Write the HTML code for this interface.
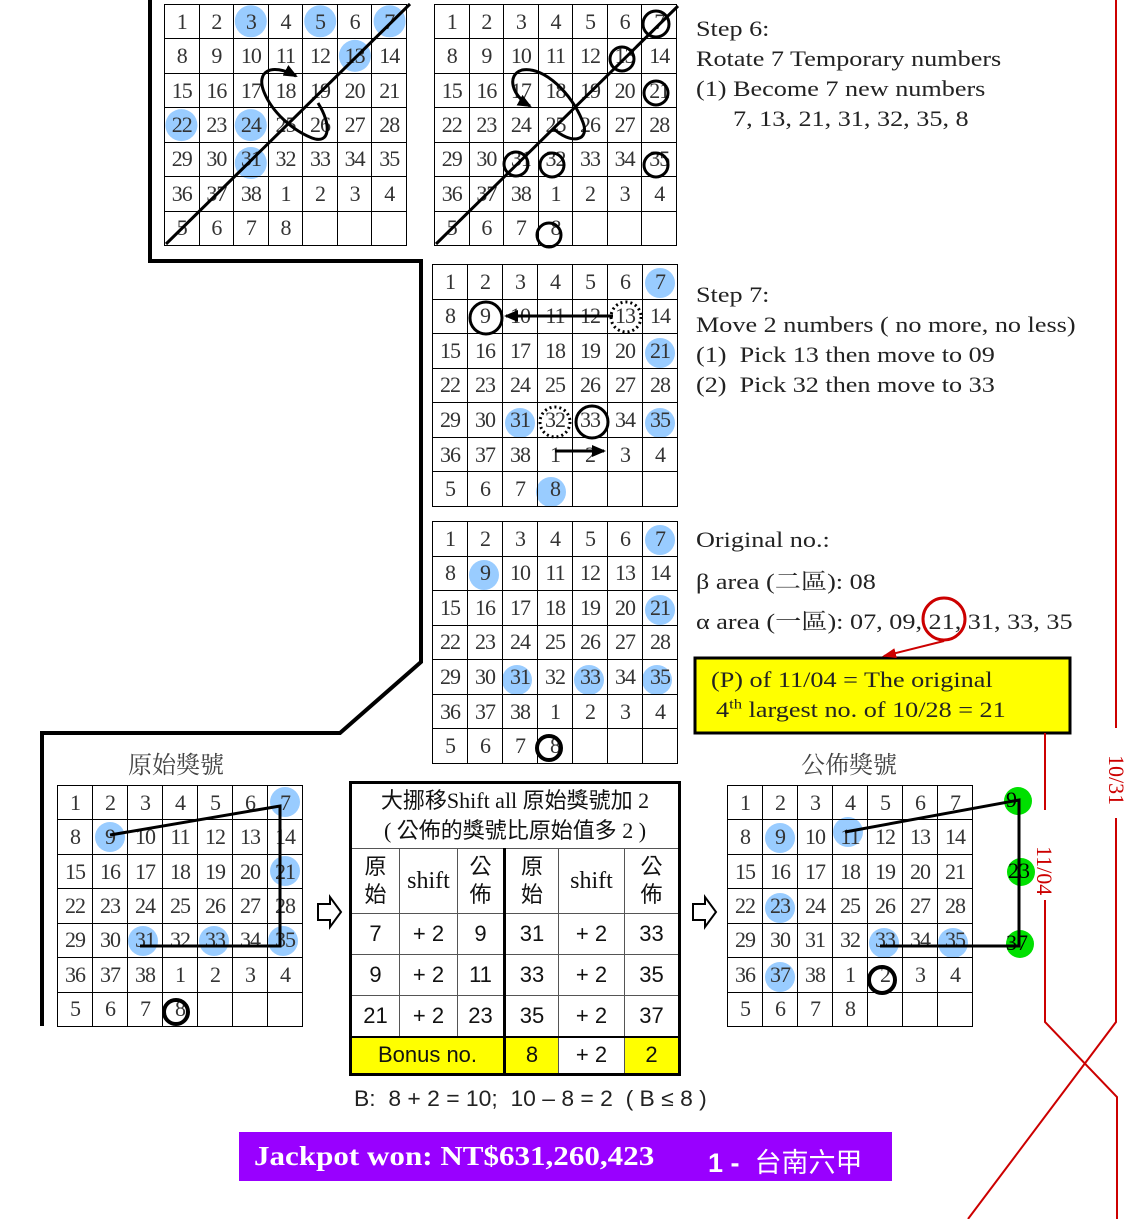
<!DOCTYPE html>
<html><head><meta charset="utf-8"><style>
body{margin:0;width:1148px;height:1219px;position:relative;background:#fff;overflow:hidden;font-family:"Liberation Serif","Noto Serif CJK SC",serif}
svg{position:absolute;left:0;top:0}
.g{position:absolute;border-collapse:collapse;table-layout:fixed;z-index:2}
.g td{border:1.5px solid #000;padding:0;text-align:center;font:22px "Liberation Serif",serif;color:#333;line-height:1;letter-spacing:-1px}
.t{position:absolute;font:22px "Liberation Serif","Noto Serif CJK SC",serif;color:#222;white-space:nowrap;z-index:3;transform-origin:0 0;transform:scaleX(1.19)}
#tb{position:absolute;left:349px;top:781px;border-collapse:collapse;table-layout:fixed;z-index:2;border:3px solid #000}
#tb td{border:1.5px solid #555;padding:0;text-align:center;font:22px "Liberation Sans","Noto Sans CJK TC",sans-serif;color:#111}
</style></head><body>
<svg width="1148" height="1219" style="z-index:1">
<g fill="#99ccff">
<circle cx="250.8" cy="21.3" r="16"/><circle cx="320.2" cy="21.3" r="16"/><circle cx="389.6" cy="21.3" r="16"/><circle cx="354.9" cy="55.9" r="16"/><circle cx="181.4" cy="125.1" r="16"/><circle cx="250.8" cy="125.1" r="16"/><circle cx="250.8" cy="163" r="16"/>
<circle cx="660" cy="283" r="15"/><circle cx="660" cy="353" r="15"/><circle cx="520" cy="423" r="15"/><circle cx="660" cy="423" r="15"/><circle cx="551" cy="492" r="15"/>
<circle cx="660" cy="540" r="15"/><circle cx="484" cy="575" r="15"/><circle cx="660" cy="610" r="15"/><circle cx="517" cy="680" r="15"/><circle cx="589" cy="680" r="15"/><circle cx="657" cy="680" r="15"/>
<circle cx="285" cy="802" r="15"/><circle cx="110" cy="837" r="15"/><circle cx="285" cy="871" r="15"/><circle cx="143" cy="941" r="15"/><circle cx="214" cy="941" r="15"/><circle cx="283" cy="941" r="15"/>
<circle cx="780" cy="838" r="15"/><circle cx="848" cy="832" r="15"/><circle cx="780" cy="908" r="15"/><circle cx="884" cy="943" r="15"/><circle cx="953" cy="943" r="15"/><circle cx="780" cy="977" r="15"/>
</g>
<g fill="#00e000"><circle cx="1018" cy="801" r="14"/><circle cx="1021" cy="872" r="14"/><circle cx="1020" cy="944" r="14"/></g>
<rect x="695" y="658" width="375" height="75" fill="#ffff00" stroke="#000" stroke-width="3"/>
<rect x="239" y="1132" width="653" height="49" fill="#9900ff"/>
</svg>

<table class="g" style="left:164px;top:4px;width:243px;height:242px"><tr><td>1<td>2<td>3<td>4<td>5<td>6<td>7<tr><td>8<td>9<td>10<td>11<td>12<td>13<td>14<tr><td>15<td>16<td>17<td>18<td>19<td>20<td>21<tr><td>22<td>23<td>24<td>25<td>26<td>27<td>28<tr><td>29<td>30<td>31<td>32<td>33<td>34<td>35<tr><td>36<td>37<td>38<td>1<td>2<td>3<td>4<tr><td>5<td>6<td>7<td>8<td><td><td></table>
<table class="g" style="left:434px;top:4px;width:243px;height:242px"><tr><td>1<td>2<td>3<td>4<td>5<td>6<td>7<tr><td>8<td>9<td>10<td>11<td>12<td>13<td>14<tr><td>15<td>16<td>17<td>18<td>19<td>20<td>21<tr><td>22<td>23<td>24<td>25<td>26<td>27<td>28<tr><td>29<td>30<td>31<td>32<td>33<td>34<td>35<tr><td>36<td>37<td>38<td>1<td>2<td>3<td>4<tr><td>5<td>6<td>7<td>8<td><td><td></table>
<table class="g" style="left:432px;top:264px;width:246px;height:243px"><tr><td>1<td>2<td>3<td>4<td>5<td>6<td>7<tr><td>8<td>9<td>10<td>11<td>12<td>13<td>14<tr><td>15<td>16<td>17<td>18<td>19<td>20<td>21<tr><td>22<td>23<td>24<td>25<td>26<td>27<td>28<tr><td>29<td>30<td>31<td>32<td>33<td>34<td>35<tr><td>36<td>37<td>38<td>1<td>2<td>3<td>4<tr><td>5<td>6<td>7<td>8<td><td><td></table>
<table class="g" style="left:432px;top:521px;width:246px;height:243px"><tr><td>1<td>2<td>3<td>4<td>5<td>6<td>7<tr><td>8<td>9<td>10<td>11<td>12<td>13<td>14<tr><td>15<td>16<td>17<td>18<td>19<td>20<td>21<tr><td>22<td>23<td>24<td>25<td>26<td>27<td>28<tr><td>29<td>30<td>31<td>32<td>33<td>34<td>35<tr><td>36<td>37<td>38<td>1<td>2<td>3<td>4<tr><td>5<td>6<td>7<td>8<td><td><td></table>
<table class="g" style="left:57px;top:785px;width:246px;height:242px"><tr><td>1<td>2<td>3<td>4<td>5<td>6<td>7<tr><td>8<td>9<td>10<td>11<td>12<td>13<td>14<tr><td>15<td>16<td>17<td>18<td>19<td>20<td>21<tr><td>22<td>23<td>24<td>25<td>26<td>27<td>28<tr><td>29<td>30<td>31<td>32<td>33<td>34<td>35<tr><td>36<td>37<td>38<td>1<td>2<td>3<td>4<tr><td>5<td>6<td>7<td>8<td><td><td></table>
<table class="g" style="left:727px;top:785px;width:246px;height:242px"><tr><td>1<td>2<td>3<td>4<td>5<td>6<td>7<tr><td>8<td>9<td>10<td>11<td>12<td>13<td>14<tr><td>15<td>16<td>17<td>18<td>19<td>20<td>21<tr><td>22<td>23<td>24<td>25<td>26<td>27<td>28<tr><td>29<td>30<td>31<td>32<td>33<td>34<td>35<tr><td>36<td>37<td>38<td>1<td>2<td>3<td>4<tr><td>5<td>6<td>7<td>8<td><td><td></table>

<table id="tb" style="width:329px;height:292px">
<colgroup><col style="width:49px"><col style="width:58px"><col style="width:47px"><col style="width:54px"><col style="width:66px"><col style="width:55px"></colgroup>
<tr style="height:66px"><td colspan="6" style="font-family:'Liberation Serif','Noto Sans CJK TC',sans-serif;line-height:30px">大挪移Shift all 原始獎號加 2<br>( 公佈的獎號比原始值多 2 )</td></tr>
<tr style="height:65px"><td style="line-height:28px">原<br>始</td><td style="font-family:'Liberation Serif',serif;font-size:24px">shift</td><td style="line-height:28px;border-right:3px solid #000">公<br>佈</td><td style="line-height:28px">原<br>始</td><td style="font-family:'Liberation Serif',serif;font-size:24px">shift</td><td style="line-height:28px">公<br>佈</td></tr>
<tr style="height:41px"><td>7</td><td>+ 2</td><td style="border-right:3px solid #000">9</td><td>31</td><td>+ 2</td><td>33</td></tr>
<tr style="height:41px"><td>9</td><td>+ 2</td><td style="border-right:3px solid #000">11</td><td>33</td><td>+ 2</td><td>35</td></tr>
<tr style="height:41px"><td>21</td><td>+ 2</td><td style="border-right:3px solid #000">23</td><td>35</td><td>+ 2</td><td>37</td></tr>
<tr style="height:38px"><td colspan="3" style="background:#ff0;border-right:3px solid #000;border-top:2px solid #000">Bonus no.</td><td style="background:#ff0;border-top:2px solid #000">8</td><td style="border-top:2px solid #000">+ 2</td><td style="background:#ff0;border-top:2px solid #000">2</td></tr>
</table>

<div class="t" style="left:696px;top:16px">Step 6:</div>
<div class="t" style="left:696px;top:46px">Rotate 7 Temporary numbers</div>
<div class="t" style="left:696px;top:76px">(1) Become 7 new numbers</div>
<div class="t" style="left:733px;top:106px">7, 13, 21, 31, 32, 35, 8</div>
<div class="t" style="left:696px;top:282px">Step 7:</div>
<div class="t" style="left:696px;top:312px">Move 2 numbers ( no more, no less)</div>
<div class="t" style="left:696px;top:342px">(1)&nbsp; Pick 13 then move to 09</div>
<div class="t" style="left:696px;top:372px">(2)&nbsp; Pick 32 then move to 33</div>
<div class="t" style="left:696px;top:527px">Original no.:</div>
<div class="t" style="left:696px;top:565px">β area (二區): 08</div>
<div class="t" style="left:696px;top:605px">α area (一區): 07, 09, 21, 31, 33, 35</div>
<div class="t" style="left:711px;top:667px">(P) of 11/04 = The original</div>
<div class="t" style="left:716px;top:697px">4<sup style="font-size:14px">th</sup> largest no. of 10/28 = 21</div>
<div class="t" style="left:128px;top:745px;font-size:24px;color:#444;transform:none">原始獎號</div>
<div class="t" style="left:801px;top:745px;font-size:24px;color:#444;transform:none">公佈獎號</div>
<div class="t" style="left:354px;top:1086px;font-family:'Liberation Sans',sans-serif;transform:scaleX(1.04)">B:&nbsp; 8 + 2 = 10;&nbsp; 10 – 8 = 2&nbsp; ( B ≤ 8 )</div>
<div class="t" style="left:254px;top:1141px;font-size:27px;font-weight:bold;color:#fff;transform:scaleX(1.15)">Jackpot won: NT$631,260,423</div>
<div class="t" style="left:708px;top:1141px;font-size:27px;color:#fff;font-family:'Liberation Sans','Noto Sans CJK TC',sans-serif;transform:none"><b>1 -</b>&nbsp; 台南六甲</div>
<div class="t" style="left:1006px;top:787px;font-size:22px;color:#000;transform:none">9</div>
<div class="t" style="left:1008px;top:858px;font-size:22px;color:#000;transform:none">23</div>
<div class="t" style="left:1006px;top:930px;font-size:22px;color:#000;transform:none">37</div>

<svg width="1148" height="1219" style="z-index:4">
<defs>
<marker id="ahl" markerWidth="14" markerHeight="12" refX="12" refY="6" orient="auto" markerUnits="userSpaceOnUse"><path d="M0,0 L14,6 L0,12 z" fill="#000"/></marker>
<marker id="ahr" markerWidth="14" markerHeight="10" refX="12" refY="5" orient="auto" markerUnits="userSpaceOnUse"><path d="M0,0 L14,5 L0,10 z" fill="#c00"/></marker></defs>
<g stroke="#000" stroke-width="4" fill="none">
<polyline points="150,0 150,261 421,261 421,662 340,733 42,733 42,1026"/>
</g>
<g stroke="#000" stroke-width="3" fill="none">
<line x1="166" y1="244" x2="410" y2="4"/>
<line x1="436" y1="244" x2="678" y2="6"/>
<path d="M318 103 C332 125 330 145 312 138 C292 130 272 112 264 92 C256 72 270 62 296 76" marker-end="url(#ahl)"/>
<path d="M553 128 C570 145 592 142 582 120 C572 95 545 66 522 70 C506 75 512 96 530 106" marker-end="url(#ahl)"/>
<circle cx="656" cy="24" r="13"/><circle cx="622" cy="59" r="12"/><circle cx="656" cy="93" r="12"/><circle cx="516" cy="164" r="12"/><circle cx="552" cy="165" r="12"/><circle cx="656" cy="165" r="12"/><circle cx="549" cy="235" r="12"/>
<circle cx="486" cy="318" r="16"/><circle cx="592" cy="422" r="16"/>
<circle cx="626" cy="317" r="15" stroke-dasharray="2,3"/><circle cx="555" cy="422" r="15" stroke-dasharray="2,3"/>
<line x1="613" y1="316" x2="506" y2="316" marker-end="url(#ahl)"/>
<line x1="555" y1="451" x2="604" y2="451" marker-end="url(#ahl)"/>
<circle cx="549" cy="748" r="12" stroke-width="4"/>
<circle cx="176" cy="1012" r="12" stroke-width="4"/>
<circle cx="882" cy="980" r="13" stroke-width="4"/>
<polyline points="110,835 280,806 280,946 140,946"/>
<polyline points="845,832 1019,800 1019,946 880,946"/>
<path d="M318,904 h12 v-7 l11,15 l-11,15 v-7 h-12 z" stroke-width="2"/>
<path d="M693,904 h12 v-7 l11,15 l-11,15 v-7 h-12 z" stroke-width="2"/>
</g>
<g stroke="#c00" stroke-width="2" fill="none">
<circle cx="944" cy="619" r="21" stroke-width="3"/>
<line x1="944" y1="641" x2="884" y2="656" marker-end="url(#ahr)"/>
<polyline points="1116,0 1116,728"/>
<polyline points="1116,818 1116,1022 968,1219"/>
<polyline points="1045,733 1045,810"/>
<polyline points="1045,900 1045,1022 1117,1097 1117,1219"/>
</g>
<text x="0" y="0" transform="translate(1109,755) rotate(90)" font-family="Liberation Serif" font-size="22" fill="#c00">10/31</text>
<text x="0" y="0" transform="translate(1037,846) rotate(90)" font-family="Liberation Serif" font-size="22" fill="#c00">11/04</text>
</svg>
</body></html>
